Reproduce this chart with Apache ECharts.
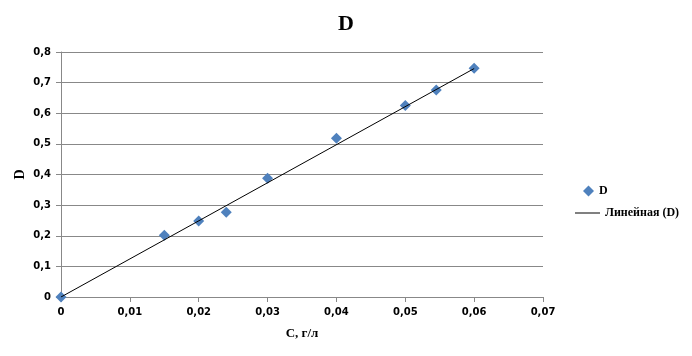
<!DOCTYPE html>
<html><head><meta charset="utf-8">
<script src="https://cdn.jsdelivr.net/npm/echarts@6/dist/echarts.min.js"></script>
<style>html,body{margin:0;padding:0;background:#fff}#c{width:692px;height:356px}</style>
</head><body><div id="c"></div>
<script>
var concentrations = [0, 0.015, 0.02, 0.024, 0.03, 0.04, 0.05, 0.0545, 0.06];
var absorbance = [0, 0.202, 0.248, 0.277, 0.388, 0.518, 0.625, 0.676, 0.747];
var trendX = [0, 0.06];
var trendY = [0, 0.746];
var xTicks = ['0','0,01','0,02','0,03','0,04','0,05','0,06','0,07'];

var chart = echarts.init(document.getElementById('c'));
function comma(v){ return String(+v.toFixed(2)).replace('.', ','); }
var labelFont = {fontFamily:'DejaVu Sans', fontWeight:'bold', fontSize:10, color:'#000'};
chart.setOption({
  animation:false,
  title:{text:'D', left:'center', top:8, textStyle:{fontFamily:'Liberation Serif', fontWeight:'bold', fontSize:22, color:'#000'}},
  grid:{left:61, right:149, top:52, bottom:59},
  xAxis:{type:'value', min:0, max:0.07, interval:0.01,
    name:'C, г/л', nameLocation:'middle', nameGap:30, nameMoveOverlap:false,
    nameTextStyle:{fontFamily:'Liberation Serif', fontWeight:'bold', fontSize:13, color:'#000'},
    axisLine:{lineStyle:{color:'#888'}}, axisTick:{show:true, length:5, lineStyle:{color:'#888'}},
    splitLine:{show:false},
    axisLabel:Object.assign({margin:10, formatter:function(v){return xTicks[Math.round(v/0.01)];}}, labelFont)},
  yAxis:{type:'value', min:0, max:0.8, interval:0.1,
    name:'D', nameLocation:'middle', nameGap:34, nameRotate:90, nameMoveOverlap:false,
    nameTextStyle:{fontFamily:'Liberation Serif', fontWeight:'bold', fontSize:14, color:'#000'},
    axisLine:{show:true, lineStyle:{color:'#888'}}, axisTick:{show:true, length:5, inside:false, lineStyle:{color:'#888'}},
    splitLine:{lineStyle:{color:'#888'}},
    axisLabel:Object.assign({margin:10, formatter:function(v){return comma(v);}}, labelFont)},
  legend:[
    {data:[{name:'D', icon:'diamond'}], orient:'vertical', left:578, top:180, itemWidth:11, itemHeight:11, itemGap:5,
     textStyle:{fontFamily:'Liberation Serif', fontWeight:'bold', fontSize:12, color:'#000'}},
    {data:[{name:'Линейная (D)', icon:'rect'}], orient:'vertical', left:570, top:202, itemWidth:25, itemHeight:1, itemGap:5,
     textStyle:{fontFamily:'Liberation Serif', fontWeight:'bold', fontSize:12, color:'#000'}}
  ],
  series:[
    {name:'Линейная (D)', type:'line', data:trendX.map(function(x,i){return [x,trendY[i]];}),
     showSymbol:false, lineStyle:{color:'#000', width:1}, itemStyle:{color:'#000'}, z:3},
    {name:'D', type:'scatter', symbol:'diamond', symbolSize:11,
     data:concentrations.map(function(x,i){return [x,absorbance[i]];}),
     itemStyle:{color:'#4F81BD', opacity:1}, z:2}
  ]
});
</script></body></html>
